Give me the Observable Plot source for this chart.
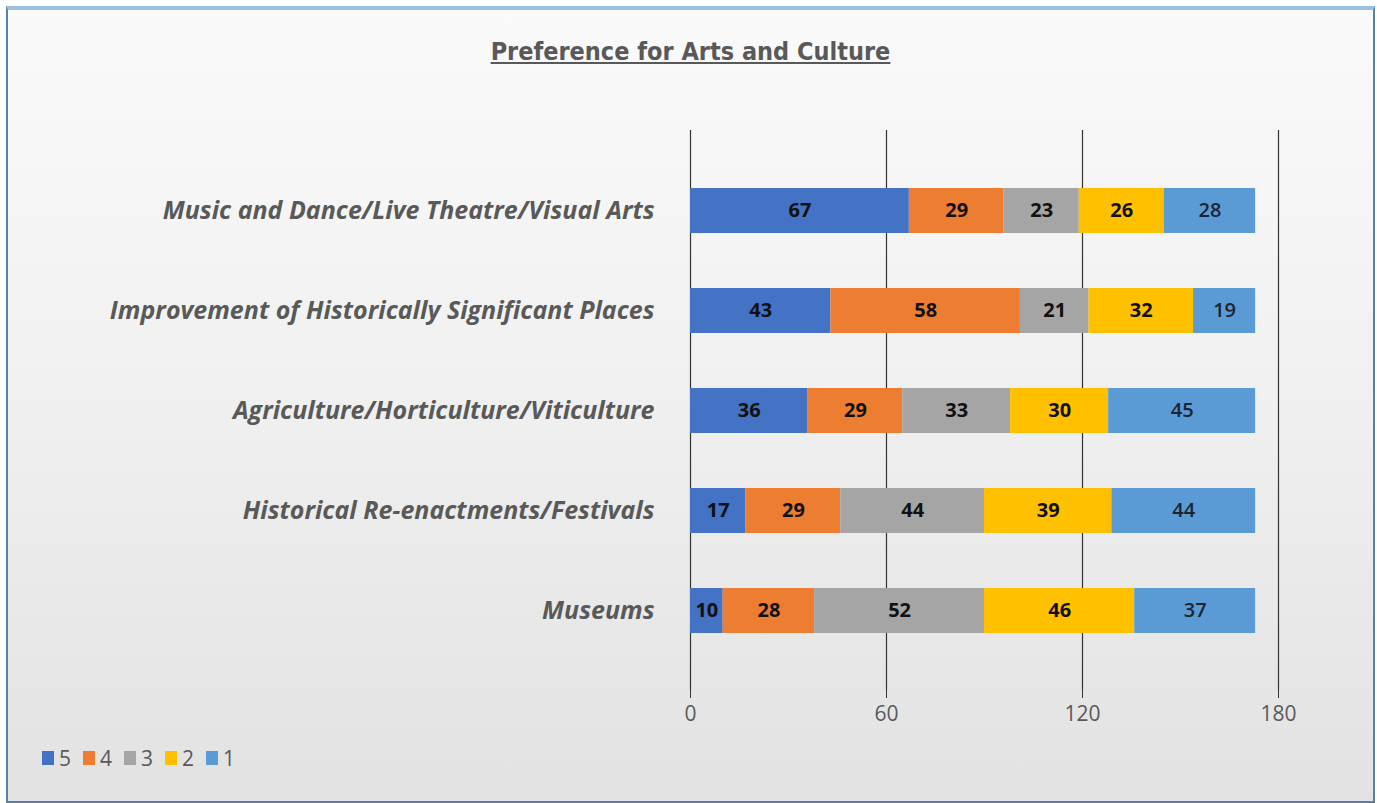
<!DOCTYPE html>
<html>
<head>
<meta charset="utf-8">
<script src="https://cdn.jsdelivr.net/npm/d3@7"></script>
<script src="https://cdn.jsdelivr.net/npm/@observablehq/plot@0.6"></script>
<style>
  html, body { margin: 0; padding: 0; background: #ffffff; }
  #frame {
    position: absolute; left: 6px; top: 6px; width: 1365px; height: 791px;
    border: 2px solid #5b7fa6; border-top: 4px solid #9cc0e0;
    background: linear-gradient(#fafafa 0%, #f1f1f1 45%, #e2e2e2 100%);
    font-family: "Open Sans", Lato, sans-serif; overflow: hidden;
  }
  #title {
    position: absolute; top: 27px; left: 0; width: 100%; text-align: center;
    font-family: "DejaVu Sans Condensed", "DejaVu Sans", sans-serif;
    font-stretch: condensed;
    font-size: 25px; font-weight: bold; color: #595959; text-decoration: underline;
  }
  #chart { position: absolute; left: 0; top: 100px; }
  #legend {
    position: absolute; left: 34px; top: 734px; display: flex; gap: 12px;
    font-size: 21px; color: #595959; align-items: center;
  }
  #legend span.item { display: flex; align-items: center; gap: 5px; }
  #legend span.sw { width: 12px; height: 14px; display: inline-block; }
</style>
</head>
<body>
<div id="frame">
  <div id="title">Preference for Arts and Culture</div>
  <div id="chart"></div>
  <div id="legend"></div>
</div>
<script>
const categories = [
  "Music and Dance/Live Theatre/Visual Arts",
  "Improvement of Historically Significant Places",
  "Agriculture/Horticulture/Viticulture",
  "Historical Re-enactments/Festivals",
  "Museums"
];
const series = ["5", "4", "3", "2", "1"];
const colors = ["#4472C4", "#ED7D31", "#A5A5A5", "#FFC000", "#5B9BD5"];
const values5 = [67, 43, 36, 17, 10];
const values4 = [29, 58, 29, 29, 28];
const values3 = [23, 21, 33, 44, 52];
const values2 = [26, 32, 30, 39, 46];
const values1 = [28, 19, 45, 44, 37];
const xTicks = [0, 60, 120, 180];

const seriesValues = [values5, values4, values3, values2, values1];
const data = [];
categories.forEach((c, i) => {
  series.forEach((s, j) => data.push({category: c, series: s, value: seriesValues[j][i]}));
});

const stackOpts = {x: "value", y: "category", z: "series"};

const plot = Plot.plot({
  width: 1365,
  height: 640,
  marginLeft: 682,
  marginRight: 95,
  marginTop: 20,
  marginBottom: 60,
  style: {background: "transparent", fontFamily: "'Open Sans', Lato, sans-serif"},
  x: {domain: [0, 180], ticks: xTicks, label: null},
  y: {domain: categories, padding: 0.55, label: null},
  color: {domain: series, range: colors},
  opacity: {type: "identity"},
  marks: [
    Plot.ruleX(xTicks, {stroke: "#333333", strokeWidth: 1.2}),
    Plot.barX(data, Plot.stackX({...stackOpts, fill: "series"})),
    Plot.text(data, Plot.stackX({...stackOpts, text: d => String(d.value), fill: "#111111", fontSize: 20,
      fontWeight: "bold", fillOpacity: d => d.series === "1" ? 0 : 1})),
    Plot.text(data, Plot.stackX({...stackOpts, text: d => String(d.value), fill: "#1a2433", fontSize: 20,
      fontWeight: 600, fillOpacity: d => d.series === "1" ? 1 : 0})),
    Plot.axisX({ticks: xTicks, tickSize: 8, tickPadding: 8, fontSize: 21, color: "#595959", stroke: "#333333"}),
    Plot.axisY({tickSize: 0, tickPadding: 36, fontSize: 25, fontWeight: "bold", fontStyle: "italic", color: "#595959"})
  ]
});
document.getElementById("chart").appendChild(plot);

const legend = document.getElementById("legend");
series.forEach((s, j) => {
  const item = document.createElement("span");
  item.className = "item";
  const sw = document.createElement("span");
  sw.className = "sw";
  sw.style.background = colors[j];
  item.appendChild(sw);
  item.appendChild(document.createTextNode(s));
  legend.appendChild(item);
});
</script>
</body>
</html>
